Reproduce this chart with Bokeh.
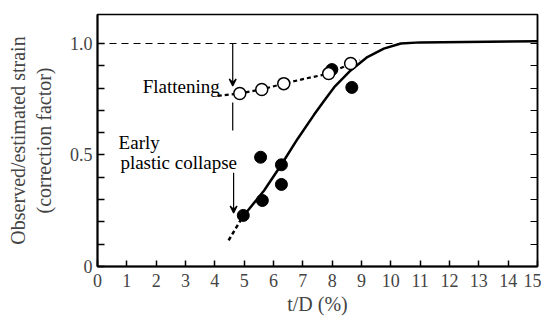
from bokeh.plotting import figure
from bokeh.models import (LinearAxis, FixedTicker, Arrow, VeeHead)
from bokeh.core.properties import value
from bokeh.embed import file_html
from bokeh.resources import INLINE

# ---- data ----
flat_x = [4.85, 5.6, 6.35, 7.88, 8.63]          # open circles (flattening)
flat_y = [0.776, 0.794, 0.82, 0.865, 0.91]
coll_x = [4.97, 5.56, 5.62, 6.27, 6.27, 7.99, 8.67]  # filled circles (early plastic collapse)
coll_y = [0.229, 0.49, 0.296, 0.456, 0.368, 0.883, 0.803]

fit_x = [4.94, 5.68, 6.25, 6.82, 7.38, 7.72, 8.07, 8.63, 9.2, 9.76, 10.34, 11.0, 15.0]
fit_y = [0.221, 0.341, 0.453, 0.572, 0.68, 0.742, 0.804, 0.879, 0.939, 0.977, 1.0, 1.005, 1.01]
fit_ext_x = [4.47, 4.94]
fit_ext_y = [0.117, 0.221]
flat_curve_x = [4.1, 4.85, 5.6, 6.35, 7.0, 7.88, 8.63, 8.95]
flat_curve_y = [0.765, 0.776, 0.794, 0.82, 0.84, 0.865, 0.91, 0.925]

x_ticks = list(range(0, 16))
y_ticks = [0, 0.5, 1.0]
y_tick_labels = {0: "0", 0.5: "0.5", 1: "1.0"}
y_minor = [0.1, 0.2, 0.3, 0.4, 0.6, 0.7, 0.8, 0.9]

FONT = "'Liberation Serif', 'Times New Roman', serif"

p = figure(width=541, height=320, x_range=(0, 15), y_range=(0, 1.13),
           output_backend="svg", toolbar_location=None,
           min_border_left=97, min_border_right=4, min_border_top=14, min_border_bottom=54,
           x_axis_label="t/D (%)", y_axis_label="Observed/estimated strain\n(correction factor)")
p.grid.visible = False
p.background_fill_color = "white"
p.border_fill_color = "white"
p.outline_line_color = "black"
p.outline_line_width = 1.5

# bottom axis
xa = p.xaxis[0]
xa.ticker = FixedTicker(ticks=x_ticks)
xa.major_tick_in = 6
xa.major_tick_out = 0
xa.minor_tick_line_color = None
xa.axis_line_width = 2
xa.major_tick_line_width = 1.5
xa.major_label_text_font = FONT
xa.major_label_text_font_size = "18px"
xa.major_label_standoff = 7
xa.axis_label_text_font = FONT
xa.axis_label_text_font_size = "20px"
xa.axis_label_text_font_style = "normal"
xa.axis_label_standoff = 3

# left axis
ya = p.yaxis[0]
ya.ticker = FixedTicker(ticks=y_ticks, minor_ticks=y_minor)
ya.major_label_overrides = y_tick_labels
ya.major_tick_in = 7
ya.major_tick_out = 0
ya.minor_tick_in = 7
ya.minor_tick_out = 0
ya.axis_line_width = 2
ya.major_tick_line_width = 1.5
ya.minor_tick_line_width = 1.5
ya.major_label_text_font = FONT
ya.major_label_text_font_size = "18px"
ya.major_label_standoff = 5
ya.axis_label_text_font = FONT
ya.axis_label_text_font_size = "20px"
ya.axis_label_text_font_style = "normal"
ya.axis_label_standoff = 12

# right axis (ticks only)
ra = LinearAxis(ticker=FixedTicker(ticks=y_ticks, minor_ticks=y_minor))
ra.major_label_overrides = {0: "", 0.5: "", 1: ""}
ra.major_tick_in = 7
ra.major_tick_out = 0
ra.minor_tick_in = 7
ra.minor_tick_out = 0
ra.major_label_standoff = 0
ra.axis_line_width = 1.5
p.add_layout(ra, "right")

# horizontal dashed line at 1.0
p.line([0, 10.4], [1.0, 1.0], line_color="black", line_width=1.2, line_dash="7 5")

# fitted curves
p.line(fit_x, fit_y, line_color="black", line_width=2.5)
p.line(fit_ext_x, fit_ext_y, line_color="black", line_width=2.5, line_dash="4 3")
p.line(flat_curve_x, flat_curve_y, line_color="black", line_width=2.2, line_dash="4 3")

# points
p.scatter(coll_x, coll_y, size=12, marker="circle", fill_color="black", line_color="black")
p.scatter(flat_x, flat_y, size=12, marker="circle", fill_color="white", line_color="black", line_width=1.5)

# arrows
p.add_layout(Arrow(end=VeeHead(size=7, line_color="black", line_width=1.2, fill_color="black"),
                   x_start=4.61, y_start=1.0, x_end=4.61, y_end=0.81,
                   line_color="black", line_width=1.2))
p.segment(x0=[4.61], y0=[0.735], x1=[4.61], y1=[0.61], line_color="black", line_width=1.2)
p.add_layout(Arrow(end=VeeHead(size=7, line_color="black", line_width=1.2, fill_color="black"),
                   x_start=4.64, y_start=0.42, x_end=4.64, y_end=0.24,
                   line_color="black", line_width=1.2))

# annotations
p.text(x=[1.54], y=[0.807], text=["Flattening"], text_font=value(FONT),
       text_font_size="19px", text_baseline="alphabetic", text_color="black")
p.text(x=[0.72], y=[0.556], text=["Early"], text_font=value(FONT),
       text_font_size="19px", text_baseline="alphabetic", text_color="black")
p.text(x=[0.78], y=[0.466], text=["plastic collapse"], text_font=value(FONT),
       text_font_size="19px", text_baseline="alphabetic", text_color="black")

open("out.html", "w").write(file_html(p, INLINE))
